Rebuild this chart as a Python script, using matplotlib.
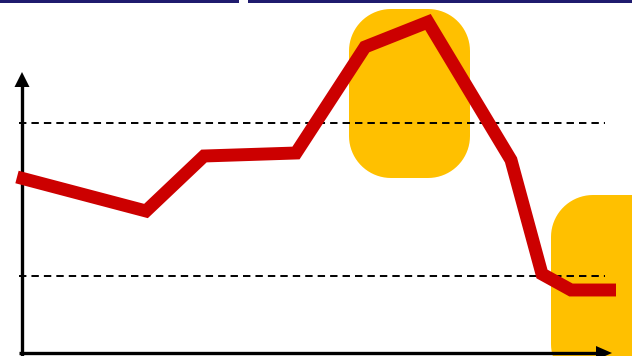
import matplotlib
matplotlib.use("Agg")
import matplotlib.pyplot as plt
import numpy as np
from matplotlib.patches import Polygon, Rectangle

# red series (x position, level)
x_vals = [17, 146, 204, 296, 365, 428, 511, 542, 571, 616]
y_vals = [179, 145, 200, 203, 309, 334, 196, 82, 66, 66]

# dashed reference levels
ref_levels = [233, 80]

# highlighted regions: (x0, y0, width, height)
highlights = [(349, 178, 121, 169), (551, -30, 130, 191)]


def rounded_rect(x0, y0, w, h, r):
    t = np.linspace(0, np.pi / 2, 20)
    pts = []
    for cx, cy, a0 in [(x0 + w - r, y0 + h - r, 0), (x0 + r, y0 + h - r, np.pi / 2),
                       (x0 + r, y0 + r, np.pi), (x0 + w - r, y0 + r, 1.5 * np.pi)]:
        pts += list(zip(cx + r * np.cos(t + a0), cy + r * np.sin(t + a0)))
    return pts


W, H = 632, 356
fig = plt.figure(figsize=(W / 100, H / 100), dpi=100)
ax = fig.add_axes([0, 0, 1, 1])
ax.set_xlim(0, W)
ax.set_ylim(0, H)
ax.axis("off")

for x0, y0, w, h in highlights:
    ax.add_patch(Polygon(rounded_rect(x0, y0, w, h, 42), closed=True,
                         fc="#FFC000", ec="none", zorder=1))

for lvl in ref_levels:
    ax.plot([19, 605], [lvl, lvl], color="black", lw=1.4,
            ls=(0, (3.8, 2.6)), zorder=2)

# axes with arrow heads
ax.plot([22, 22], [-5, 270], color="black", lw=2.4, solid_capstyle="butt", zorder=3)
ax.add_patch(Polygon([[14.5, 269], [29.5, 269], [22, 284]], closed=True,
                     fc="black", ec="none", zorder=3))
ax.plot([19, 598], [3, 3], color="black", lw=2.4, solid_capstyle="butt", zorder=3)
ax.add_patch(Polygon([[596, 10], [596, -4], [612, 3]], closed=True,
                     fc="black", ec="none", zorder=3))

ax.plot(x_vals, y_vals, color="#CC0000", lw=9.3, solid_joinstyle="miter",
        solid_capstyle="butt", zorder=4)

# top border strip
ax.add_patch(Rectangle((0, H - 2.5), W, 2.5, fc="#1F1B6E", ec="none", zorder=5))
ax.add_patch(Rectangle((239, H - 3), 9, 3, fc="white", ec="none", zorder=6))

fig.savefig("out.png", dpi=100)
plt.close(fig)
